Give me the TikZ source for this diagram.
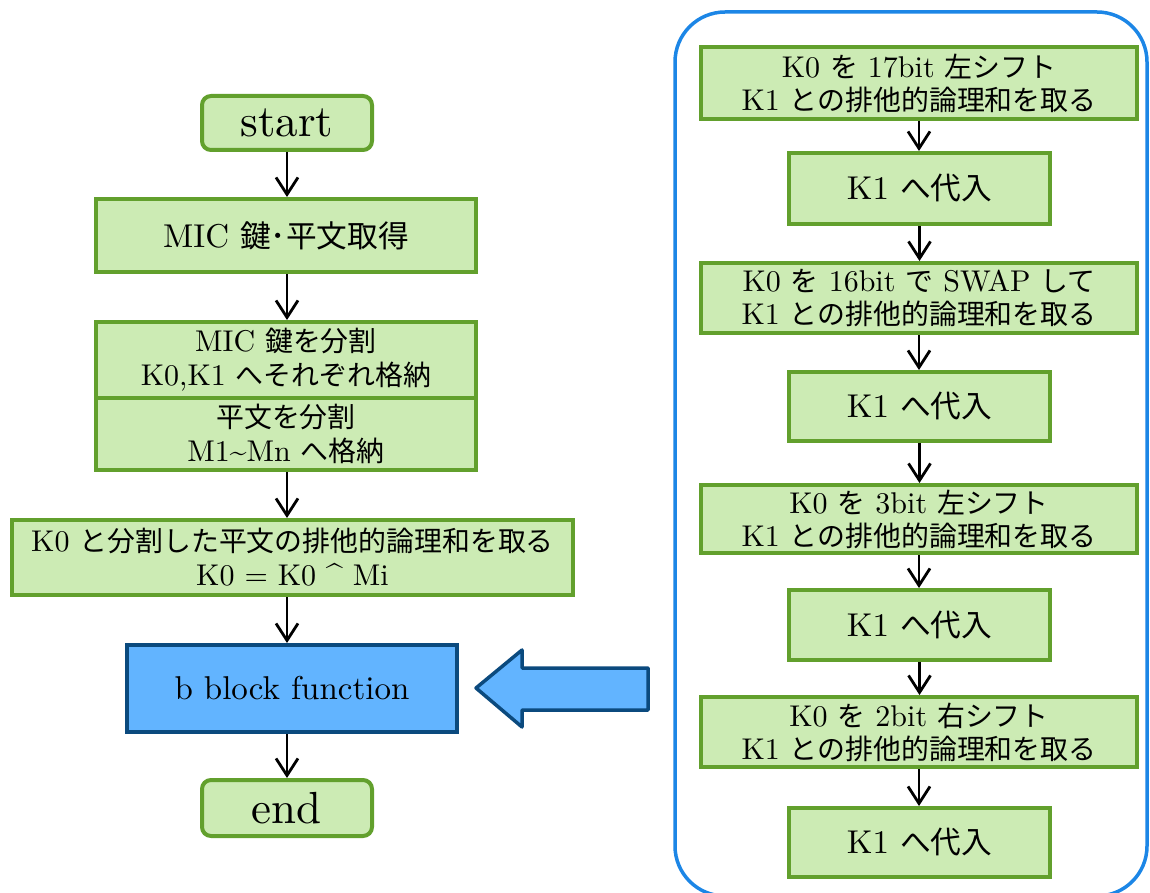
\documentclass[tikz,border=0pt]{standalone}
\usepackage{fontspec}
\setmainfont{lmroman10-regular.otf}
\newfontfamily\jp[Scale=0.93]{Noto Sans CJK JP}
\usetikzlibrary{arrows.meta}
\definecolor{gfill}{HTML}{CCEBB4}
\definecolor{gline}{HTML}{62A02D}
\definecolor{bfill}{HTML}{62B4FF}
\definecolor{bline}{HTML}{0B4A7E}
\definecolor{panelline}{HTML}{1C86E6}
\begin{document}
\begin{tikzpicture}[x=1pt,y=-1pt,
  gbox/.style={draw=gline, fill=gfill, line width=4pt, inner sep=0pt,
    align=center, font=\fontsize{30}{34}\selectfont},
  term/.style={gbox, rounded corners=9pt, minimum width=170pt,
    font=\fontsize{45}{45}\selectfont},
  wide/.style={gbox, minimum width=436pt, font=\fontsize{30}{33}\selectfont},
  narrow/.style={gbox, minimum width=261pt, font=\fontsize{33}{33}\selectfont},
  bbox/.style={draw=bline, fill=bfill, line width=4pt, inner sep=0pt,
    align=center, font=\fontsize{33}{33}\selectfont},
  flow/.style={line width=2.4pt, -{Straight Barb[length=17pt,width=22pt,line width=2.8pt]}}]
\path[use as bounding box, clip] (0,0) rectangle (1150,893);

% main flow
\node[term, minimum height=54pt] (start) at (287,123) {start};
\node[gbox, minimum width=380pt, minimum height=73pt, font=\fontsize{33}{34}\selectfont]
  (get) at (286,235.5) {MIC {\jp 鍵･平文取得}};
\node[gbox, minimum width=380pt, minimum height=76pt] (keysplit) at (286,360)
  {MIC {\jp 鍵を分割}\\K0,K1 {\jp へそれぞれ格納}};
\node[gbox, minimum width=380pt, minimum height=72pt] (msgsplit) at (286,434)
  {{\jp 平文を分割}\\M1\textasciitilde Mn {\jp へ格納}};
\node[gbox, minimum width=561pt, minimum height=75pt] (xor) at (292.5,557.5)
  {K0 {\jp と分割した平文の排他的論理和を取る}\\K0 = K0 \textasciicircum\ Mi};
\node[bbox, minimum width=330pt, minimum height=87pt] (bf) at (292,688.5)
  {b block function};
\node[term, minimum height=56pt] (end) at (287,808) {end};

\draw[flow] (start.south) -- (start.south |- get.north);
\draw[flow] (start.south |- get.south) -- (start.south |- keysplit.north);
\draw[flow] (start.south |- msgsplit.south) -- (start.south |- xor.north);
\draw[flow] (start.south |- xor.south) -- (start.south |- bf.north);
\draw[flow] (start.south |- bf.south) -- (end.north);

% b block function detail
\draw[panelline, line width=3.5pt, rounded corners=50pt] (675,12) rectangle (1147,896);

\node[wide, minimum height=72pt] (r1) at (919,83)
  {K0 {\jp を} 17bit {\jp 左シフト}\\K1 {\jp との排他的論理和を取る}};
\node[narrow, minimum height=71pt] (r2) at (919.5,188.5) {K1 {\jp へ代入}};
\node[wide, minimum height=70pt] (r3) at (919,298)
  {K0 {\jp を} 16bit {\jp で} SWAP {\jp して}\\K1 {\jp との排他的論理和を取る}};
\node[narrow, minimum height=69pt] (r4) at (919.5,406.5) {K1 {\jp へ代入}};
\node[wide, minimum height=68pt] (r5) at (919,519)
  {K0 {\jp を} 3bit {\jp 左シフト}\\K1 {\jp との排他的論理和を取る}};
\node[narrow, minimum height=70pt] (r6) at (919.5,625) {K1 {\jp へ代入}};
\node[wide, minimum height=70pt] (r7) at (919,732)
  {K0 {\jp を} 2bit {\jp 右シフト}\\K1 {\jp との排他的論理和を取る}};
\node[narrow, minimum height=69pt] (r8) at (919.5,842.5) {K1 {\jp へ代入}};

\foreach \a/\b in {r1/r2,r2/r3,r3/r4,r4/r5,r5/r6,r6/r7,r7/r8}
  \draw[flow] (\a.south) -- (\a.south |- \b.north);

% block arrow feeding the detail into the main flow
\draw[bline, fill=bfill, line width=3.5pt, line join=round]
  (476,688) -- (522,650) -- (522,668) -- (648,668) -- (648,710)
  -- (522,710) -- (522,727) -- cycle;
\end{tikzpicture}
\end{document}
